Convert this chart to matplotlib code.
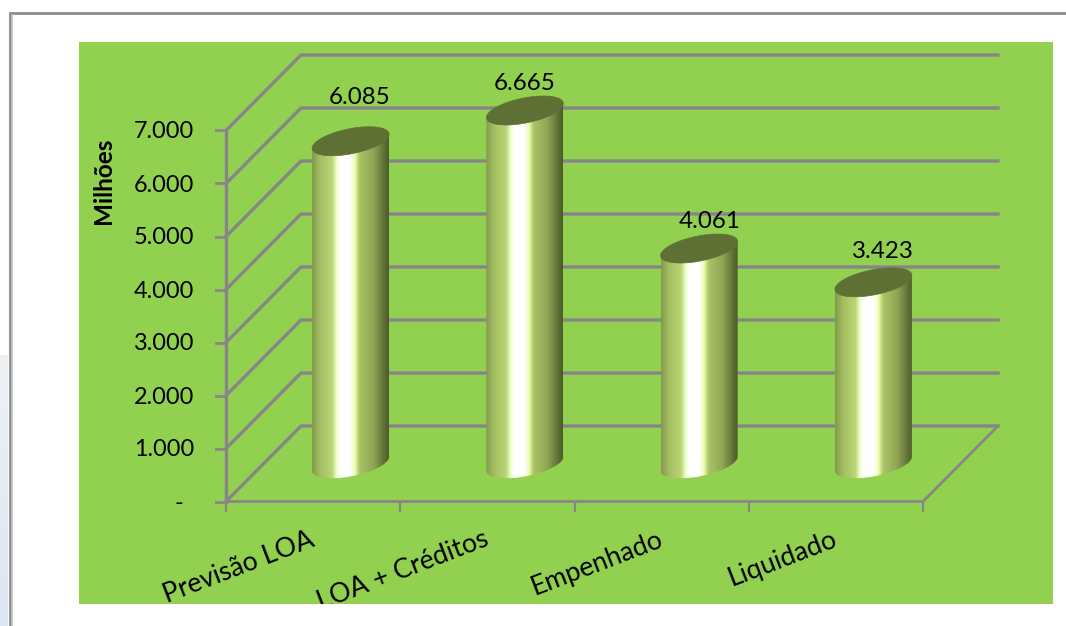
import matplotlib
matplotlib.use('Agg')
import matplotlib.pyplot as plt
import numpy as np
from matplotlib.colors import LinearSegmentedColormap
from matplotlib.patches import Polygon, Rectangle

plt.rcParams['font.family'] = ['Lato', 'DejaVu Sans']

# Data
categories = ['Previsão LOA', 'LOA + Créditos', 'Empenhado', 'Liquidado']
values = [6085, 6665, 4061, 3423]
value_labels = ['6.085', '6.665', '4.061', '3.423']
y_ticks = [0, 1000, 2000, 3000, 4000, 5000, 6000, 7000]
y_tick_labels = ['-', '1.000', '2.000', '3.000', '4.000', '5.000', '6.000', '7.000']

# label offsets from the cylinder top, in pixels
label_dx = [9, 0, 10, 10]
label_dy = [44, 27, 27, 31]

W, H = 1066, 626
GREEN = '#92d050'
GRID = '#888589'

fig = plt.figure(figsize=(W / 100, H / 100), dpi=100, facecolor='white')

# page frame and green chart area, in pixels
bg = fig.add_axes([0, 0, 1, 1])
bg.axis('off')
bg.imshow(np.linspace(0, 1, 100).reshape(-1, 1), extent=(0, 8, H, 355), aspect='auto',
          cmap=LinearSegmentedColormap.from_list('s', ['#eef1f4', '#dde6f3']), zorder=1)
bg.set_xlim(0, W)
bg.set_ylim(H, 0)
bg.plot([9.5, 9.5, W], [H, 13, 13], color='#8c8c8c', lw=2, solid_joinstyle='miter', zorder=2)
bg.plot([11.5, 11.5], [H, 14.5], color='#c4c4c4', lw=1.2, zorder=2)
panel = Rectangle((79, 42), 974, 562, fc=GREEN, lw=0, zorder=2)
bg.add_patch(panel)

# main axes is the front plane of the 3d box: x in categories, y in values
ax = fig.add_axes([226 / W, 1 - 501.5 / H, 697 / W, 371 / H])
ax.patch.set_alpha(0)
for s in ax.spines.values():
    s.set_visible(False)
ax.set_xticks([])
ax.set_yticks([])

px_x = 697 / 4  # pixels per category
px_y = 0.053  # pixels per value unit
depth_x = 75 / px_x
depth_y = 75.5 / px_y

# walls
for t, lab in zip(y_ticks, y_tick_labels):
    ax.plot([0, depth_x, 4 + depth_x], [t, t + depth_y, t + depth_y], color=GRID, lw=2.4,
            solid_joinstyle='miter', clip_on=False, zorder=2)
    ax.plot([-10 / px_x, 0], [t, t], color=GRID, lw=2, clip_on=False, zorder=2)
    if t:
        ax.text(-32 / px_x, t - 1.5 / px_y, lab, ha='right', va='center', fontsize=16.9)
    else:
        ax.text(-47 / px_x, t - 1.5 / px_y, lab, ha='center', va='center', fontsize=16.9)
ax.plot([0, 0], [0, 7000], color=GRID, lw=2.4, clip_on=False, zorder=2)
ax.plot([0, 4, 4 + depth_x], [0, 0, depth_y], color=GRID, lw=2, clip_on=False, zorder=2)
for i in range(5):
    ax.plot([i, i], [0, -170], color=GRID, lw=1.5, clip_on=False, zorder=2)

# cylinders
shade = LinearSegmentedColormap.from_list('cyl', [
    (0.00, '#83994b'), (0.10, '#a4bd62'), (0.26, '#b9d676'), (0.32, '#f0ffc8'), (0.36, '#ffffff'),
    (0.50, '#ffffff'), (0.56, '#eefcb0'), (0.62, '#abc466'), (0.80, '#8fa553'), (0.92, '#66773a'),
    (1.00, '#4a5a28')])
half_w = 38.5 / px_x
tilt = 7 / px_y
minor = 12.7 / px_y
t_low = np.linspace(np.pi, 2 * np.pi, 60)
t_all = np.linspace(0, 2 * np.pi, 120)

for i, v in enumerate(values):
    cx = i + 0.5 + depth_x / 2
    base = depth_y / 2
    top = base + v
    lx = cx + half_w * np.cos(t_low)
    ly = base + tilt * np.cos(t_low) + minor * np.sin(t_low)
    xs = np.r_[lx, cx + half_w, cx - half_w]
    ys = np.r_[ly, top + tilt, top - tilt]
    body = Polygon(np.c_[xs, ys], closed=True, fc='none', ec='none')
    ax.add_patch(body)
    im = ax.imshow(np.linspace(0, 1, 256).reshape(1, -1), cmap=shade, aspect='auto', zorder=3,
                   extent=(cx - half_w, cx + half_w, base - 2 * minor, top + 2 * tilt))
    im.set_clip_path(body)
    im.set_clip_box(fig.bbox)
    ex = cx + half_w * np.cos(t_all)
    ey = top + tilt * np.cos(t_all) + minor * np.sin(t_all)
    ax.add_patch(Polygon(np.c_[ex, ey], closed=True, fc='#5f7035', ec='#5f7035', lw=0.5, zorder=4,
                         clip_on=False))
    ax.text(cx + label_dx[i] / px_x, top + label_dy[i] / px_y, value_labels[i], ha='center',
            va='center', fontsize=17.4, clip_on=False, zorder=5)
    lab = ax.text(i + 0.5, -37 / px_y, categories[i], rotation=21, rotation_mode='anchor', ha='right',
                  va='center', fontsize=19.2, zorder=5)
    lab.set_clip_on(True)
    lab.set_clip_path(panel)

ax.set_xlim(0, len(categories))
ax.set_ylim(0, 7000)

fig.text(103.5 / W, 1 - 181 / H, 'Milhões', rotation=90, ha='center', va='center', fontsize=17.5,
         fontweight='bold')

plt.savefig('out.png', dpi=100)
